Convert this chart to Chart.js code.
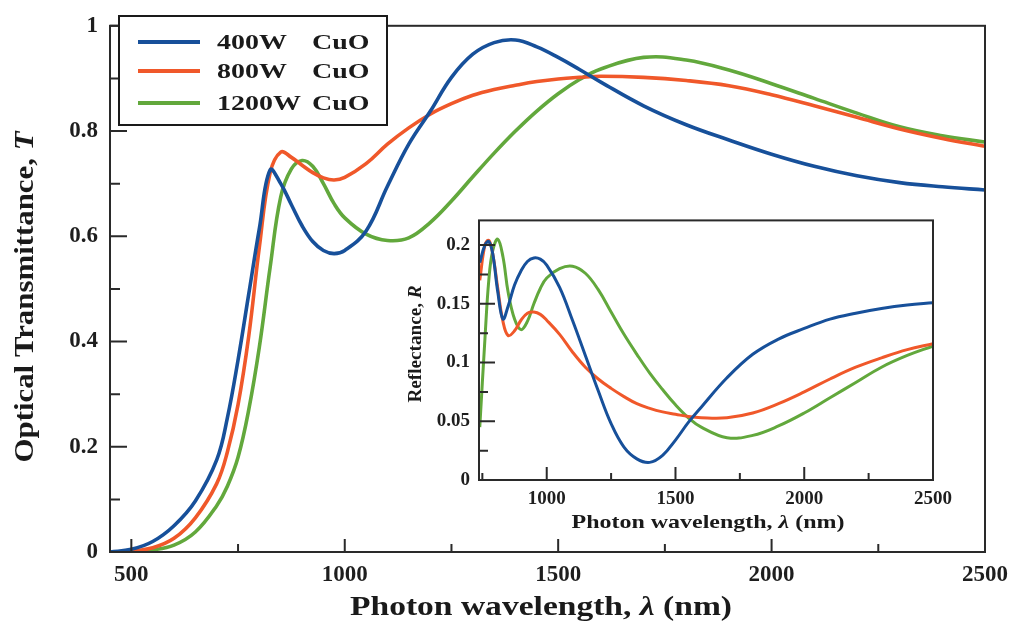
<!DOCTYPE html>
<html>
<head>
<meta charset="utf-8">
<script src="https://cdn.jsdelivr.net/npm/chart.js@4.4.1/dist/chart.umd.min.js"></script>
<style>
  html, body { margin: 0; padding: 0; background: #fff; }
  #wrap { position: relative; width: 1017px; height: 622px; }
  #principal { position: absolute; left: 0; top: 0; }
  #inserto { position: absolute; left: 395px; top: 200px; }
</style>
</head>
<body>
<div id="wrap">
  <canvas id="principal" width="1017" height="622" style="width:1017px;height:622px"></canvas>
  <canvas id="inserto" width="565" height="335" style="width:565px;height:335px"></canvas>
</div>
<script>
// series (potencia de depósito)
const series = ["400W", "800W", "1200W"];
const colores = ["#17509a", "#f0582a", "#62a83c"];

// transmitancia (gráfico principal)
const lambdaT = [450, 500, 550, 600, 650, 700, 725, 750, 775, 800, 825, 850, 875, 900, 925, 950, 975, 1000,
  1050, 1100, 1150, 1200, 1250, 1300, 1350, 1400, 1450, 1500, 1550, 1600, 1700, 1800, 1900, 2000, 2100, 2200, 2300, 2400, 2500];
const T400 = [0.0, 0.005, 0.02, 0.05, 0.097, 0.175, 0.255, 0.365, 0.49, 0.615, 0.726, 0.70, 0.66, 0.62, 0.59, 0.573, 0.567, 0.573,
  0.61, 0.695, 0.775, 0.837, 0.902, 0.946, 0.968, 0.973, 0.96, 0.94, 0.917, 0.893, 0.848, 0.812, 0.783, 0.756, 0.733, 0.715, 0.702, 0.694, 0.688];
const T800 = [0.0, 0.002, 0.008, 0.026, 0.065, 0.13, 0.19, 0.28, 0.41, 0.58, 0.72, 0.76, 0.75, 0.735, 0.721, 0.711, 0.707, 0.712,
  0.738, 0.775, 0.806, 0.832, 0.852, 0.868, 0.879, 0.887, 0.894, 0.899, 0.902, 0.904, 0.902, 0.896, 0.886, 0.869, 0.848, 0.826, 0.804, 0.786, 0.771];
const T1200 = [0.0, 0.001, 0.004, 0.013, 0.038, 0.088, 0.125, 0.18, 0.27, 0.39, 0.54, 0.675, 0.728, 0.744, 0.733, 0.70, 0.662, 0.635,
  0.604, 0.592, 0.597, 0.626, 0.667, 0.713, 0.758, 0.80, 0.838, 0.871, 0.898, 0.918, 0.94, 0.935, 0.916, 0.89, 0.862, 0.834, 0.808, 0.791, 0.779];

// reflectancia (inserto)
const lambdaR = [740, 760, 775, 790, 810, 830, 850, 875, 900, 925, 950, 975, 1000, 1050, 1100, 1150, 1200, 1250, 1300,
  1350, 1400, 1450, 1500, 1550, 1600, 1700, 1800, 1900, 2000, 2100, 2200, 2300, 2400, 2500];
const R400 = [0.185, 0.2, 0.203, 0.193, 0.16, 0.137, 0.148, 0.166, 0.178, 0.186, 0.189, 0.188, 0.183, 0.164, 0.136, 0.106, 0.076, 0.048, 0.028,
  0.018, 0.015, 0.021, 0.034, 0.049, 0.062, 0.087, 0.107, 0.12, 0.129, 0.137, 0.142, 0.146, 0.149, 0.151];
const R800 = [0.17, 0.2, 0.204, 0.193, 0.163, 0.135, 0.123, 0.127, 0.136, 0.142, 0.143, 0.141, 0.136, 0.124, 0.109, 0.096, 0.086, 0.078, 0.071,
  0.065, 0.061, 0.058, 0.056, 0.054, 0.053, 0.053, 0.057, 0.065, 0.075, 0.086, 0.096, 0.104, 0.111, 0.116];
const R1200 = [0.045, 0.12, 0.17, 0.195, 0.205, 0.19, 0.16, 0.137, 0.128, 0.135, 0.15, 0.163, 0.172, 0.18, 0.182, 0.176, 0.162, 0.143, 0.124,
  0.107, 0.091, 0.077, 0.064, 0.053, 0.045, 0.036, 0.038, 0.046, 0.057, 0.07, 0.083, 0.096, 0.106, 0.114];

// marcas de los ejes
const xMayorT = [500, 1000, 1500, 2000, 2500];
const xMenorT = [750, 1250, 1750, 2250];
const yMayorT = [0, 0.2, 0.4, 0.6, 0.8, 1];
const yMenorT = [0.1, 0.3, 0.5, 0.7, 0.9];
const xMayorR = [1000, 1500, 2000, 2500];
const xMenorR = [750, 1250, 1750, 2250];
const yMayorR = [0, 0.05, 0.1, 0.15, 0.2];
const yMenorR = [0.025, 0.075, 0.125, 0.175];

Chart.defaults.font.family = "'Liberation Serif', 'Times New Roman', serif";
Chart.defaults.color = "#1e1e1e";

const serif = "'Liberation Serif', 'Times New Roman', serif";

// marco, marcas hacia dentro
const marcoEjes = {
  id: "marcoEjes",
  afterDatasetsDraw(chart, args, o) {
    const { ctx, chartArea: a, scales: { x, y } } = chart;
    ctx.save();
    ctx.strokeStyle = "#2a2a2a";
    ctx.lineWidth = 2;
    ctx.beginPath();
    o.xMayor.forEach(v => { const p = x.getPixelForValue(v); ctx.moveTo(p, a.bottom); ctx.lineTo(p, a.bottom - o.lxMayor); });
    o.xMenor.forEach(v => { const p = x.getPixelForValue(v); ctx.moveTo(p, a.bottom); ctx.lineTo(p, a.bottom - o.lxMenor); });
    o.yMayor.forEach(v => { const p = y.getPixelForValue(v); ctx.moveTo(a.left, p); ctx.lineTo(a.left + o.lyMayor, p); });
    o.yMenor.forEach(v => { const p = y.getPixelForValue(v); ctx.moveTo(a.left, p); ctx.lineTo(a.left + o.lyMenor, p); });
    ctx.stroke();
    ctx.strokeRect(a.left, a.top, a.right - a.left, a.bottom - a.top);
    ctx.restore();
  }
};

function textoMixto(ctx, partes, tam, cx, cy, largo, rot) {
  ctx.save();
  let total = 0;
  partes.forEach(p => { ctx.font = p[1] + " " + tam + "px " + serif; p.w = ctx.measureText(p[0]).width; total += p.w; });
  ctx.translate(cx, cy);
  if (rot) ctx.rotate(-Math.PI / 2);
  ctx.scale(largo / total, 1);
  ctx.textBaseline = "alphabetic";
  ctx.textAlign = "left";
  ctx.fillStyle = "#1a1a1a";
  let xx = -total / 2;
  partes.forEach(p => { ctx.font = p[1] + " " + tam + "px " + serif; ctx.fillText(p[0], xx, 0); xx += p.w; });
  ctx.restore();
}

const titulos = {
  id: "titulos",
  afterDraw(chart, args, o) {
    const ctx = chart.ctx;
    textoMixto(ctx, o.x.partes, o.x.tam, o.x.cx, o.x.base, o.x.largo, false);
    textoMixto(ctx, o.y.partes, o.y.tam, o.y.base, o.y.cy, o.y.largo, true);
  }
};

const leyendaCaja = {
  id: "leyendaCaja",
  afterDraw(chart, args, o) {
    if (!o.mostrar) return;
    const ctx = chart.ctx;
    ctx.save();
    ctx.fillStyle = "#fff";
    ctx.fillRect(o.x1, o.y1, o.x2 - o.x1, o.y2 - o.y1);
    ctx.strokeStyle = "#1a1a1a";
    ctx.lineWidth = 2;
    ctx.strokeRect(o.x1, o.y1, o.x2 - o.x1, o.y2 - o.y1);
    chart.data.datasets.forEach((ds, i) => {
      const yy = o.filas[i];
      ctx.strokeStyle = ds.borderColor;
      ctx.lineWidth = 4;
      ctx.beginPath();
      ctx.moveTo(138, yy);
      ctx.lineTo(200, yy);
      ctx.stroke();
      const [nombre, comp] = ds.label.split(" ");
      ctx.fillStyle = "#1a1a1a";
      ctx.font = "bold 22px " + serif;
      ctx.textBaseline = "middle";
      ctx.save(); ctx.translate(217, yy + 1); ctx.scale(1.27, 1); ctx.fillText(nombre, 0, 0); ctx.restore();
      ctx.save(); ctx.translate(312, yy + 1); ctx.scale(1.27, 1); ctx.fillText(comp, 0, 0); ctx.restore();
    });
    ctx.restore();
  }
};

function conjuntos(xs, ys, ancho) {
  return ys.map((arr, i) => ({
    label: series[i] + " CuO",
    data: xs.map((x, k) => ({ x: x, y: arr[k] })),
    borderColor: colores[i],
    backgroundColor: colores[i],
    borderWidth: ancho,
    pointRadius: 0,
    fill: false,
    tension: 0.4
  }));
}

function fijarTicks(lista) {
  return scale => { scale.ticks = lista.map(v => ({ value: v })); };
}

// gráfico principal
new Chart(document.getElementById("principal"), {
  type: "line",
  data: { datasets: conjuntos(lambdaT, [T400, T800, T1200], 3.6) },
  options: {
    responsive: false,
    animation: false,
    layout: { padding: { top: 16, right: 31, left: 0, bottom: 0 } },
    scales: {
      x: {
        type: "linear", min: 450, max: 2500,
        afterBuildTicks: fijarTicks(xMayorT),
        afterFit: s => { s.height = 70; },
        grid: { display: false, drawTicks: false },
        border: { display: false },
        ticks: { padding: 9, maxRotation: 0, font: { size: 23, weight: "bold" }, callback: v => String(v) }
      },
      y: {
        type: "linear", min: 0, max: 1,
        afterBuildTicks: fijarTicks(yMayorT),
        afterFit: s => { s.width = 110; },
        grid: { display: false, drawTicks: false },
        border: { display: false },
        ticks: { padding: 12, font: { size: 23, weight: "bold" }, callback: v => String(v) }
      }
    },
    plugins: {
      legend: { display: false },
      tooltip: { enabled: false },
      marcoEjes: { xMayor: xMayorT, xMenor: xMenorT, yMayor: yMayorT, yMenor: yMenorT, lxMayor: 13, lxMenor: 8, lyMayor: 17, lyMenor: 10 },
      titulos: {
        x: { partes: [["Photon wavelength, ", "bold"], ["λ", "bold italic"], [" (nm)", "bold"]], tam: 27, cx: 541, base: 615, largo: 382 },
        y: { partes: [["Optical Transmittance, ", "bold"], ["T", "bold italic"]], tam: 27, base: 33, cy: 297, largo: 331 }
      },
      leyendaCaja: { mostrar: true, x1: 119, y1: 16, x2: 387, y2: 125, filas: [42, 71, 103] }
    }
  },
  plugins: [marcoEjes, titulos, leyendaCaja]
});

// inserto de reflectancia
new Chart(document.getElementById("inserto"), {
  type: "line",
  data: { datasets: conjuntos(lambdaR, [R400, R800, R1200], 3) },
  options: {
    responsive: false,
    animation: false,
    layout: { padding: { top: 7, right: 19, left: 0, bottom: 0 } },
    scales: {
      x: {
        type: "linear", min: 737, max: 2500,
        afterBuildTicks: fijarTicks(xMayorR),
        afterFit: s => { s.height = 55; },
        grid: { display: false, drawTicks: false },
        border: { display: false },
        ticks: { padding: 8, maxRotation: 0, font: { size: 19, weight: "bold" }, callback: v => String(v) }
      },
      y: {
        type: "linear", min: 0, max: 0.221,
        afterBuildTicks: fijarTicks(yMayorR),
        afterFit: s => { s.width = 84; },
        grid: { display: false, drawTicks: false },
        border: { display: false },
        ticks: { padding: 9, font: { size: 19, weight: "bold" }, callback: v => String(v) }
      }
    },
    plugins: {
      legend: { display: false },
      tooltip: { enabled: false },
      marcoEjes: { xMayor: xMayorR, xMenor: xMenorR, yMayor: yMayorR, yMenor: yMenorR, lxMayor: 13, lxMenor: 7, lyMayor: 16, lyMenor: 9 },
      titulos: {
        x: { partes: [["Photon wavelength, ", "bold"], ["λ", "bold italic"], [" (nm)", "bold"]], tam: 19, cx: 313, base: 328, largo: 273 },
        y: { partes: [["Reflectance, ", "bold"], ["R", "bold italic"]], tam: 18, base: 26, cy: 144, largo: 117 }
      },
      leyendaCaja: { mostrar: false }
    }
  },
  plugins: [marcoEjes, titulos, leyendaCaja]
});
</script>
</body>
</html>
